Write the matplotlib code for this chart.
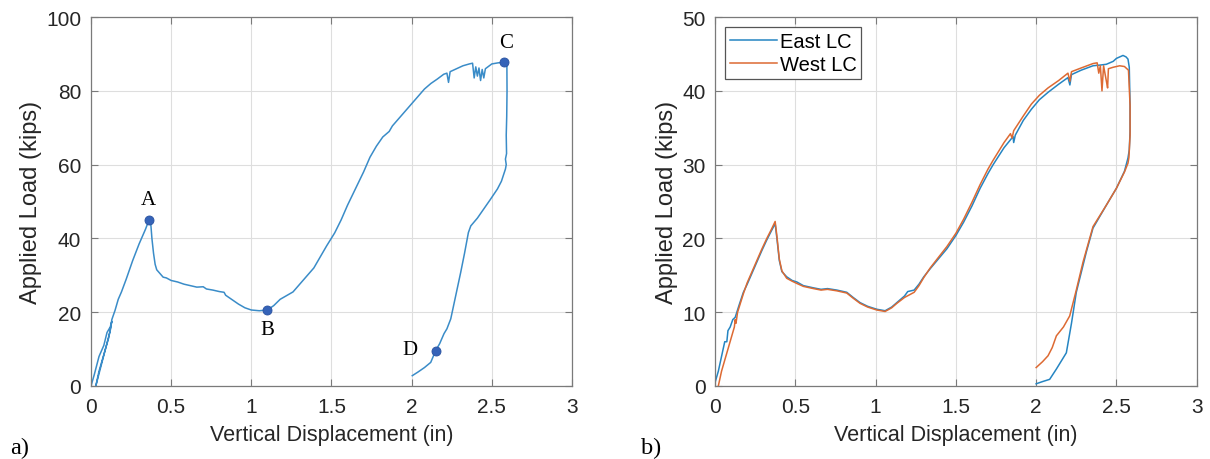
import matplotlib
matplotlib.use("Agg")
import matplotlib.pyplot as plt

plt.rcParams['font.family'] = ['Liberation Sans', 'DejaVu Sans']

# panel a) - applied load vs vertical displacement
disp_a = [0, 0.02, 0.05, 0.08, 0.10, 0.12, 0.13, 0.11, 0.08, 0.05, 0.03, 0.06, 0.09, 0.12, 0.13,
          0.15, 0.17, 0.19, 0.22, 0.26, 0.30, 0.34, 0.362, 0.372, 0.38, 0.39, 0.40, 0.41, 0.43, 0.45,
          0.47, 0.50, 0.54, 0.58, 0.62, 0.66, 0.70, 0.72, 0.76, 0.80, 0.83, 0.84, 0.88, 0.92, 0.96,
          1.00, 1.05, 1.10, 1.14, 1.18, 1.22, 1.26, 1.30, 1.34, 1.39, 1.43, 1.47, 1.52, 1.56, 1.60,
          1.65, 1.70, 1.74, 1.78, 1.82, 1.86, 1.88, 1.92, 1.96, 2.00, 2.04, 2.08, 2.12, 2.16, 2.20,
          2.22, 2.23, 2.24, 2.28, 2.32, 2.36, 2.38, 2.39, 2.40, 2.41, 2.42, 2.43, 2.44, 2.45, 2.46,
          2.50, 2.54, 2.573, 2.594, 2.595, 2.593, 2.590, 2.592, 2.585, 2.590, 2.585, 2.56, 2.535,
          2.49, 2.45, 2.41, 2.369, 2.354, 2.33, 2.306, 2.275, 2.244, 2.22, 2.202, 2.175, 2.15,
          2.119, 2.08, 2.04, 2.004]
load_a = [0, 3, 8, 11, 14.5, 16, 17.5, 13, 8.5, 4, 0, 5, 10, 15, 18,
          20.5, 23.5, 25.5, 29, 34, 38.5, 42.5, 45, 44.5, 40, 36, 33, 31.5, 30.5, 29.5,
          29.3, 28.6, 28.2, 27.6, 27.2, 26.8, 26.9, 26.3, 26.0, 25.6, 25.4, 24.6, 23.4, 22.2, 21.2,
          20.6, 20.4, 20.6, 21.8, 23.5, 24.5, 25.5, 27.5, 29.5, 32, 35, 38, 41.5, 45, 49,
          53.5, 58, 62, 65, 67.5, 69, 70.5, 72.5, 74.5, 76.5, 78.5, 80.5, 82, 83.2, 84.5,
          84.8, 82.3, 85.2, 86, 86.8, 87.3, 87.5, 83.5, 86.5, 84, 86.2, 82.8, 85.8, 83.5, 86,
          87.3, 87.6, 87.7, 87.5, 80, 73, 68, 63, 61.5, 60, 58.8, 55.5, 53.4,
          50.5, 48, 45.5, 43.4, 41.6, 36, 30.8, 24.5, 18.2, 15.5, 14.2, 11.5, 9.6,
          6.4, 5, 3.8, 2.8]

point_names = ['A', 'B', 'C', 'D']
point_disp = [0.362, 1.10, 2.573, 2.15]
point_load = [45, 20.6, 87.7, 9.6]

# panel b) - east and west load cells
disp_east = [0, 0.02, 0.04, 0.06, 0.073, 0.08, 0.094, 0.11, 0.125, 0.15, 0.176, 0.2, 0.23, 0.26,
             0.29, 0.322, 0.35, 0.374, 0.385, 0.40, 0.416, 0.446, 0.48, 0.509, 0.55, 0.613, 0.66,
             0.70, 0.758, 0.82, 0.86, 0.903, 0.95, 1.007, 1.059, 1.10, 1.132, 1.18, 1.20, 1.24,
             1.27, 1.30, 1.34, 1.39, 1.444, 1.50, 1.548, 1.60, 1.651, 1.70, 1.732, 1.80, 1.856,
             1.86, 1.87, 1.92, 1.97, 2.02, 2.074, 2.14, 2.198, 2.21, 2.22, 2.28, 2.354, 2.40,
             2.437, 2.48, 2.50, 2.541, 2.56, 2.572, 2.58, 2.585, 2.585, 2.58, 2.572, 2.55, 2.50,
             2.437, 2.354, 2.313, 2.25, 2.22, 2.188, 2.126, 2.084, 2.04, 2.0]
load_east = [0.5, 2, 4, 6, 6, 7.5, 8, 9, 9.3, 11, 12.7, 13.8, 15.3, 16.8,
             18.3, 19.8, 21, 22, 20, 17, 15.5, 14.8, 14.3, 14.1, 13.6, 13.3, 13.1,
             13.2, 13.0, 12.7, 12.0, 11.3, 10.8, 10.4, 10.2, 10.7, 11.3, 12.2, 12.8, 13.0,
             13.8, 14.8, 15.9, 17.2, 18.6, 20.4, 22.2, 24.4, 26.8, 28.8, 30, 32.3, 33.8,
             33, 34, 36, 37.5, 38.8, 39.8, 40.9, 41.8, 40.8, 42.2, 42.8, 43.4, 43.5,
             43.6, 44.0, 44.4, 44.8, 44.6, 44.3, 43.2, 38, 34.5, 32, 30.9, 29.1, 26.8,
             24.5, 21.4, 18.2, 12.7, 8.5, 4.5, 2.3, 0.9, 0.6, 0.3]

disp_west = [0.02, 0.04, 0.06, 0.08, 0.10, 0.12, 0.125, 0.13, 0.14, 0.176, 0.2, 0.23, 0.26, 0.29,
             0.322, 0.35, 0.374, 0.385, 0.40, 0.416, 0.446, 0.48, 0.509, 0.55, 0.613, 0.66, 0.70,
             0.758, 0.82, 0.86, 0.903, 0.95, 1.007, 1.059, 1.10, 1.132, 1.18, 1.24, 1.27, 1.30,
             1.34, 1.39, 1.444, 1.50, 1.548, 1.60, 1.651, 1.70, 1.732, 1.80, 1.84, 1.85, 1.86,
             1.92, 1.97, 2.02, 2.074, 2.14, 2.198, 2.21, 2.22, 2.28, 2.354, 2.38, 2.39, 2.40,
             2.41, 2.42, 2.44, 2.445, 2.45, 2.48, 2.52, 2.55, 2.575, 2.585, 2.585, 2.578, 2.572,
             2.55, 2.50, 2.437, 2.354, 2.292, 2.25, 2.209, 2.17, 2.126, 2.1, 2.074, 2.04, 2.0]
load_west = [0, 2, 3.5, 5, 6.5, 8, 9, 8.5, 10, 12.5, 14, 15.5, 17, 18.5,
             20, 21.2, 22.3, 20.3, 17.2, 15.6, 14.6, 14.2, 13.9, 13.5, 13.2, 13.0, 13.1,
             12.9, 12.6, 11.9, 11.2, 10.7, 10.3, 10.1, 10.6, 11.2, 12.0, 12.7, 13.6, 14.7,
             16.0, 17.4, 18.9, 20.7, 22.6, 24.9, 27.3, 29.4, 30.6, 33, 34.2, 33.6, 34.6,
             36.6, 38.2, 39.4, 40.4, 41.4, 42.4, 41.3, 42.6, 43.1, 43.7, 43.8, 42.4, 43.4,
             40.0, 43.4, 41.0, 40.4, 43.0, 43.2, 43.4, 43.3, 42.8, 38, 34, 31, 30.2,
             29, 26.8, 24.5, 21.6, 16.8, 13, 9.5, 8, 6.8, 5.2, 4.1, 3.3, 2.5]

fig = plt.figure(figsize=(12.1, 4.6), dpi=100)
ax1 = fig.add_axes([0.0752, 0.1587, 0.3975, 0.802])
ax2 = fig.add_axes([0.591, 0.1587, 0.398, 0.802])


def style_axes(ax, ymax, ystep):
    ax.set_xlim(0, 3)
    ax.set_ylim(0, ymax)
    ax.set_xticks([0, 0.5, 1, 1.5, 2, 2.5, 3])
    ax.set_xticklabels(['0', '0.5', '1', '1.5', '2', '2.5', '3'])
    ax.set_yticks(list(range(0, ymax + 1, ystep)))
    ax.grid(True, color='#dedede', linewidth=0.8)
    ax.set_axisbelow(True)
    for s in ax.spines.values():
        s.set_color('#7a7a7a')
        s.set_linewidth(0.9)
    ax.tick_params(direction='in', length=5, width=0.8, color='#7a7a7a',
                   top=True, right=True, labelsize=15, labelcolor='#262626')
    ax.tick_params(axis='x', pad=8)
    ax.tick_params(axis='y', pad=7)
    ax.set_xlabel('Vertical Displacement (in)', fontsize=15.5, color='#262626', labelpad=6)
    ax.set_ylabel('Applied Load (kips)', fontsize=17, color='#262626', labelpad=3)


ax1.plot(disp_a, load_a, color='#3a8cc8', linewidth=1.1)
ax1.plot(point_disp, point_load, linestyle='none', marker='o', markersize=6.5,
         color='#3563b8', markeredgecolor='#2a52a0', markeredgewidth=0.6)
label_pos = [(0.36, 50.5), (1.10, 15.2), (2.59, 93.0), (1.99, 10.0)]
for name, (lx, ly) in zip(point_names, label_pos):
    ax1.text(lx, ly, name, family=['Liberation Serif', 'DejaVu Serif'], fontsize=15,
             ha='center', va='center', color='black')
style_axes(ax1, 100, 20)

ax2.plot(disp_east, load_east, color='#2585c2', linewidth=1.1, label='East LC')
ax2.plot(disp_west, load_west, color='#dd6a33', linewidth=1.1, label='West LC')
style_axes(ax2, 50, 10)
leg = ax2.legend(loc='upper left', fontsize=14.5, fancybox=False, framealpha=1,
                 edgecolor='#555555', handlelength=2.3, handletextpad=0.15,
                 borderpad=0.25, labelspacing=0.2, borderaxespad=0.5)
leg.get_frame().set_linewidth(0.9)

fig.text(0.008, 0.012, 'a)', family=['Liberation Serif', 'DejaVu Serif'], fontsize=17.5)
fig.text(0.530, 0.012, 'b)', family=['Liberation Serif', 'DejaVu Serif'], fontsize=17.5)

fig.savefig('out.png', dpi=100)
